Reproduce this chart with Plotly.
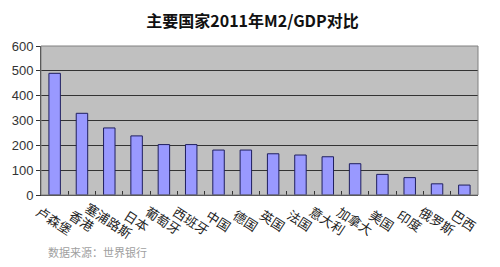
import plotly.graph_objects as go

categories = ["卢森堡", "香港", "塞浦路斯", "日本", "葡萄牙", "西班牙", "中国", "德国",
              "英国", "法国", "意大利", "加拿大", "美国", "印度", "俄罗斯", "巴西"]
values = [490, 329, 270, 238, 203, 203, 181, 181, 166, 161, 154, 126, 83, 70, 45, 40]
y_ticks = [0, 100, 200, 300, 400, 500, 600]
title_text = "主要国家2011年M2/GDP对比"
source_text = "数据来源：世界银行"

CJK = "Noto Sans CJK SC"

fig = go.Figure()
fig.add_trace(go.Bar(
    x=categories, y=values,
    marker=dict(color="#9999FF", line=dict(color="#1F1F5F", width=1)),
    width=0.42,
))

annotations = []
for c in categories:
    annotations.append(dict(
        x=c, xref="x", y=0, yref="paper", yshift=-25,
        text=c, showarrow=False, textangle=33,
        xanchor="center", yanchor="middle",
        font=dict(family=CJK, size=13, color="#222222"),
    ))
annotations.append(dict(
    x=0.011, xref="paper", y=-0.383, yref="paper", yanchor="middle",
    xanchor="left",
    text=source_text, showarrow=False,
    font=dict(family=CJK, size=11, color="#A0A0A0"),
))

fig.update_layout(
    width=500, height=267,
    margin=dict(l=41, r=22, t=46, b=72),
    paper_bgcolor="white",
    plot_bgcolor="#C0C0C0",
    showlegend=False,
    title=dict(text="<b>" + title_text + "</b>", x=0.505, xanchor="center",
               y=0.918, yanchor="middle",
               font=dict(family=CJK, size=16, color="#111111")),
    xaxis=dict(
        showticklabels=False, tickson="boundaries", ticks="inside",
        ticklen=4, tickcolor="#333333",
        showline=True, linecolor="#333333", linewidth=1, mirror=False,
        showgrid=False, range=[-0.5, len(categories) - 0.5],
    ),
    yaxis=dict(
        range=[0, 600], tickvals=y_ticks, ticks="outside", ticklen=4,
        tickcolor="#333333", showgrid=True,
        gridcolor="#333333", gridwidth=1,
        showline=True, linecolor="#333333", linewidth=1,
        tickfont=dict(family="Liberation Sans", size=13, color="#333333"),
        zeroline=False,
    ),
    annotations=annotations,
    bargap=0.58,
)
fig.add_shape(type="rect", xref="paper", yref="paper", x0=0, y0=0, x1=1, y1=1,
              line=dict(color="#808080", width=1), layer="above")

fig.write_html("out.html")
